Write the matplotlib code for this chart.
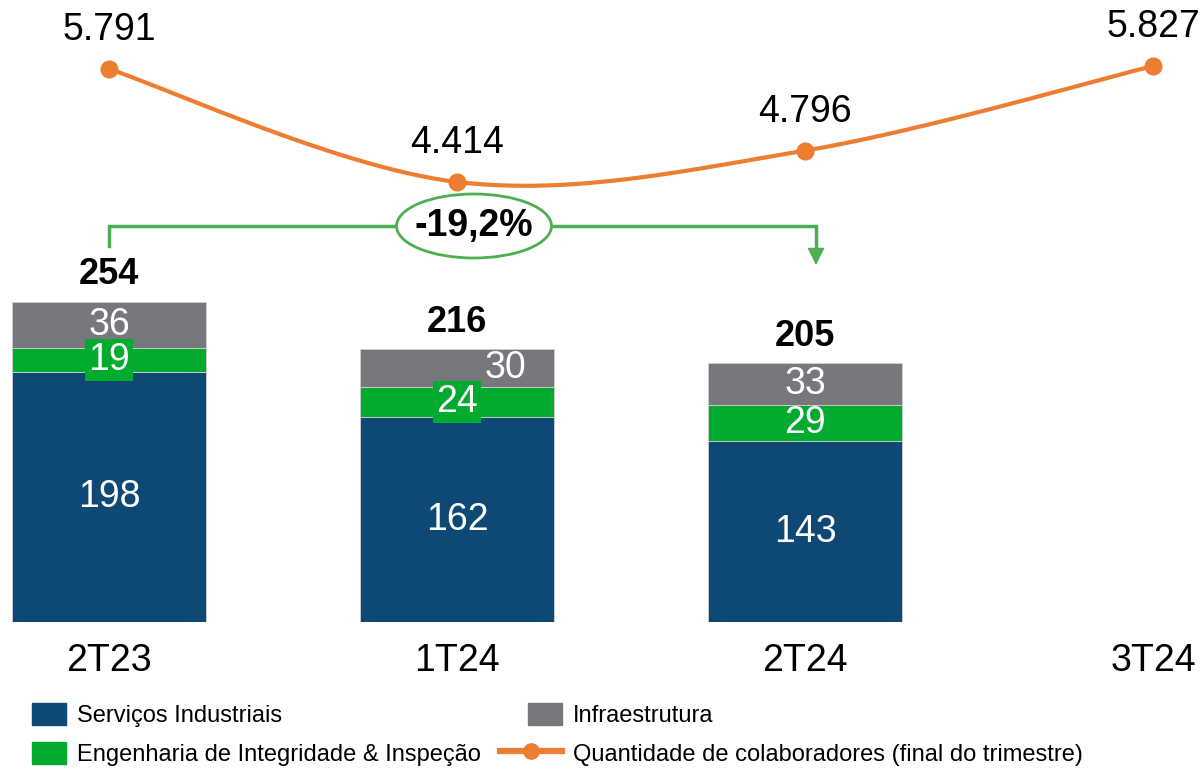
import matplotlib
matplotlib.use("Agg")
import matplotlib.pyplot as plt
import numpy as np
from matplotlib.patches import Ellipse, Patch
from matplotlib.lines import Line2D
from matplotlib.legend_handler import HandlerLine2D

plt.rcParams['font.family'] = ['Liberation Sans', 'DejaVu Sans']

categories = ["2T23", "1T24", "2T24", "3T24"]
servicos = [198, 162, 143]
engenharia = [19, 24, 29]
infra = [36, 30, 33]
totais = [254, 216, 205]
colaboradores = [5791, 4414, 4796, 5827]
variacao = "-19,2%"

c_blue = "#0E4874"
c_green = "#00AB2F"
c_gray = "#77787C"
c_orange = "#ED7D31"
c_bracket = "#4CAF50"

fig = plt.figure(figsize=(12.02, 7.72), dpi=100)
ax = fig.add_axes([0, 150/772, 1, 622/772])
ax.set_xlim(-109/348, 3 + 49/348)
ax.set_ylim(0, 622/1.264)
for s in ax.spines.values():
    s.set_visible(False)
ax.set_yticks([])

xb = np.arange(len(servicos))
w = 194/348
ax.bar(xb, servicos, w, color=c_blue, edgecolor="#d0d0d0", linewidth=0.6, zorder=2)
b2 = np.array(servicos)
ax.bar(xb, engenharia, w, bottom=b2, color=c_green, edgecolor="#d0d0d0", linewidth=0.6, zorder=2)
b3 = b2 + np.array(engenharia)
ax.bar(xb, infra, w, bottom=b3, color=c_gray, edgecolor="#d0d0d0", linewidth=0.6, zorder=2)

fs = 27
for i in range(len(servicos)):
    ax.text(xb[i], servicos[i]/2, str(servicos[i]), ha="center", va="center",
            color="white", fontsize=fs, zorder=5)
    bb = None
    if i < 2:
        bb = dict(boxstyle="square,pad=0.08", facecolor=c_green, edgecolor="none")
    ax.text(xb[i], b2[i] + engenharia[i]/2, str(engenharia[i]), ha="center", va="center",
            color="white", fontsize=fs, zorder=5, bbox=bb)
    dx = 0.14 if i == 1 else 0
    ax.text(xb[i] + dx, b3[i] + infra[i]/2, str(infra[i]), ha="center", va="center",
            color="white", fontsize=fs, zorder=4)
    ax.text(xb[i], totais[i] + 21, str(totais[i]), ha="center", va="center",
            color="black", fontsize=26, fontweight="bold", zorder=5)

ax.set_xticks(np.arange(len(categories)))
ax.set_xticklabels(categories, fontsize=27)
ax.tick_params(axis="x", length=0, pad=15)

# line on secondary axis
ax2 = ax.twinx()
ax2.set_ylim(5791 - (622 - 69) * 12.19, 5791 + 69 * 12.19)
ax2.set_axis_off()
xl = np.arange(len(colaboradores), dtype=float)
yl = np.array(colaboradores, dtype=float)
P = np.vstack([xl, yl]).T
Pe = np.vstack([P[0], P, P[-1]])
cx, cy = [], []
t = np.linspace(0, 1, 60)
for k in range(1, len(Pe) - 2):
    p0, p1, p2, p3 = Pe[k-1], Pe[k], Pe[k+1], Pe[k+2]
    tt = t[:, None]
    seg = 0.5 * ((2*p1) + (-p0 + p2)*tt + (2*p0 - 5*p1 + 4*p2 - p3)*tt**2 + (-p0 + 3*p1 - 3*p2 + p3)*tt**3)
    cx.extend(seg[:, 0]); cy.extend(seg[:, 1])
ax2.plot(cx, cy, color=c_orange, lw=3, zorder=3)
ax2.plot(xl, yl, "o", color=c_orange, markersize=12, zorder=4)
for i, v in enumerate(colaboradores):
    ax2.annotate(f"{v:,}".replace(",", "."), (xl[i], yl[i]), xytext=(0, 28),
                 textcoords="offset points", ha="center", va="center", fontsize=27)

# growth bracket
y_h = (622 - 226) / 1.264
y_l = (622 - 246) / 1.264
y_a = (622 - 265) / 1.264
y_s = (622 - 250) / 1.264
x_r = (816 - 109) / 348
ax.plot([0, 0, x_r, x_r], [y_l, y_h, y_h, y_s], color=c_bracket, lw=2.5, zorder=3,
        solid_joinstyle="miter")
ax.annotate("", xy=(x_r, y_a), xytext=(x_r, y_s + 0.5),
            arrowprops=dict(arrowstyle="-|>,head_length=0.54,head_width=0.27", color=c_bracket,
                            lw=1, shrinkA=0, shrinkB=0, mutation_scale=20), zorder=3)
ell = Ellipse(((474 - 109) / 348, y_h), 155 / 348, 64 / 1.264, facecolor="white",
              edgecolor=c_bracket, lw=2, zorder=4)
ax.add_patch(ell)
ax.text((474 - 109) / 348, y_h, variacao, ha="center", va="center", fontsize=27,
        fontweight="bold", zorder=5)

class WideLine(HandlerLine2D):
    def create_artists(self, legend, orig_handle, xdescent, ydescent, width, height, fontsize, trans):
        return super().create_artists(legend, orig_handle, xdescent + 20, ydescent, width + 20,
                                      height, fontsize, trans)

h_blue = Patch(color=c_blue)
h_green = Patch(color=c_green)
h_gray = Patch(color=c_gray)
h_line = Line2D([], [], color=c_orange, lw=4.5, marker="o", markersize=11)
leg_kw = dict(loc="upper left", frameon=False, fontsize=17, handlelength=1.44,
              handleheight=1.06, handletextpad=0.45, labelspacing=0.62,
              borderpad=0, borderaxespad=0)
fig.legend([h_blue, h_green], ["Serviços Industriais", "Engenharia de Integridade & Inspeção"],
           bbox_to_anchor=(32/1202, 1 - 703/772), **leg_kw)
fig.legend([h_gray, h_line], ["Infraestrutura", "Quantidade de colaboradores (final do trimestre)"],
           bbox_to_anchor=(528/1202, 1 - 703/772), handler_map={h_line: WideLine(numpoints=1)},
           **leg_kw)

fig.savefig("out.png", dpi=100)
